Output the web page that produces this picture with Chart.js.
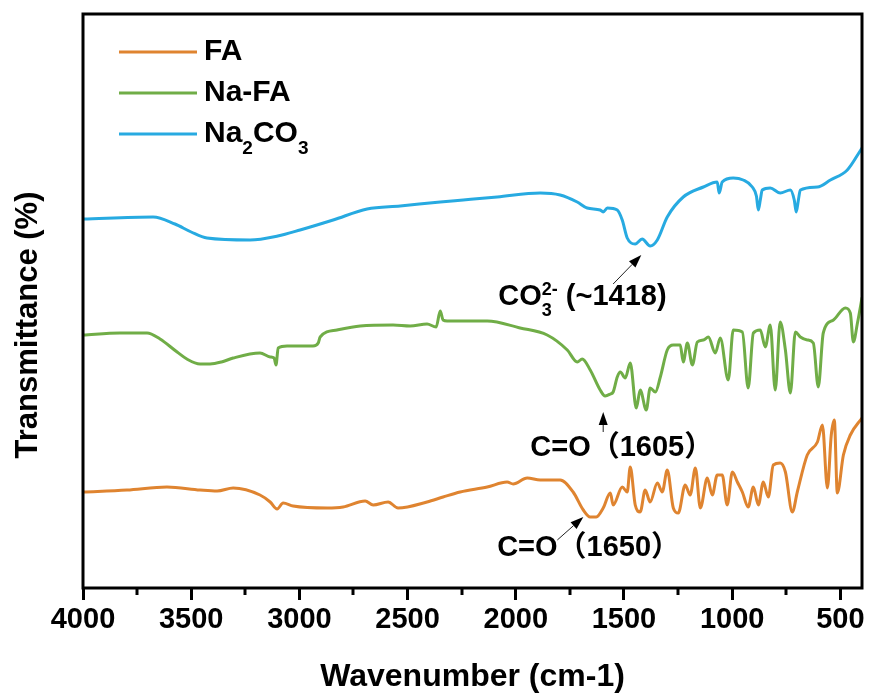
<!DOCTYPE html>
<html>
<head>
<meta charset="utf-8">
<title>FTIR spectra</title>
<script src="https://cdn.jsdelivr.net/npm/chart.js@4.4.1/dist/chart.umd.min.js"></script>
<style>
  html, body { margin: 0; padding: 0; background: #fff; }
  #wrap { width: 871px; height: 697px; }
</style>
</head>
<body>
<div id="wrap"><canvas id="ftirChart" width="871" height="697"></canvas></div>
<script>
// Spectra: wavenumber (cm-1) and transmittance (a.u., curves stacked)
const waveFA = [4000, 3797, 3612, 3459, 3380, 3306, 3182, 3135, 3103, 3075, 3029, 2872, 2798, 2696, 2659, 2590, 2544, 2410, 2336, 2257,
  2132, 2040, 2012, 1947, 1887, 1795, 1735, 1688, 1656, 1628, 1596, 1563, 1550, 1508, 1485, 1471, 1448, 1425, 1402, 1379,
  1346, 1323, 1300, 1272, 1249, 1217, 1194, 1170, 1147, 1115, 1092, 1069, 1046, 1023, 999, 976, 953, 926, 902, 879,
  856, 833, 810, 778, 754, 722, 699, 653, 606, 583, 560, 542, 528, 514, 486, 454, 400];
const transFA = [96, 98, 101, 98, 97, 100, 93, 86, 79, 85, 82, 80, 81, 87, 83, 86, 80, 86, 91, 96,
  101, 106, 104, 110, 108, 108, 96, 78, 71, 71, 80, 95, 83, 101, 96, 121, 83, 76, 98, 86,
  105, 96, 118, 80, 75, 103, 93, 120, 80, 110, 93, 113, 113, 83, 116, 106, 96, 81, 101, 83,
  106, 91, 123, 125, 116, 76, 96, 133, 146, 163, 100, 153, 168, 95, 133, 153, 170];

const waveNaFA = [4000, 3829, 3704, 3644, 3565, 3520, 3459, 3413, 3360, 3306, 3182, 3135, 3117, 3108, 3098, 3057, 2937, 2913, 2904, 2826,
  2719, 2567, 2488, 2410, 2368, 2349, 2336, 2317, 2132, 1980, 1855, 1762, 1716, 1693, 1656, 1610, 1587, 1563, 1550, 1531,
  1517, 1494, 1471, 1443, 1425, 1397, 1379, 1355, 1332, 1300, 1272, 1240, 1226, 1207, 1184, 1161, 1133, 1110, 1078, 1055,
  1018, 995, 953, 926, 902, 870, 847, 824, 801, 778, 754, 731, 708, 685, 653, 625, 602, 579, 532, 477,
  454, 440, 421, 400];
const transNaFA = [253, 255, 255, 249, 236, 229, 224, 224, 226, 230, 235, 231, 230, 223, 240, 242, 242, 245, 251, 258,
  262, 263, 262, 264, 261, 277, 268, 267, 267, 260, 253, 238, 226, 229, 218, 198, 192, 194, 196, 211,
  216, 210, 225, 180, 198, 178, 200, 196, 211, 238, 243, 243, 226, 245, 223, 246, 248, 251, 235, 250,
  208, 258, 256, 200, 255, 258, 241, 263, 198, 266, 238, 195, 256, 251, 248, 245, 201, 255, 268, 280,
  275, 246, 265, 290];

const waveNa2CO3 = [4000, 3676, 3575, 3500, 3427, 3228, 3100, 2997, 2844, 2687, 2534, 2349, 2243, 2086, 1887, 1795, 1716, 1670, 1610, 1596,
  1577, 1531, 1508, 1485, 1448, 1416, 1379, 1346, 1300, 1226, 1133, 1069, 1060, 1046, 995, 949, 907, 888, 879, 870,
  861, 824, 778, 731, 713, 704, 694, 685, 606, 546, 468, 400];
const transNa2CO3 = [369, 371, 364, 356, 350, 348, 352, 358, 368, 379, 382, 386, 388, 391, 395, 393, 386, 380, 378, 376,
  380, 378, 368, 350, 344, 349, 342, 348, 371, 391, 401, 406, 395, 406, 410, 408, 401, 392, 378, 388,
  398, 400, 395, 398, 388, 376, 388, 398, 401, 408, 418, 440];

const seriesNames = ['FA', 'Na-FA', 'Na2CO3'];
const seriesColors = ['#DF8430', '#70AD47', '#27AAE1'];
const xTickValues = [4000, 3500, 3000, 2500, 2000, 1500, 1000, 500];
const xMinorTicks = [3750, 3250, 2750, 2250, 1750, 1250, 750];

// peak labels: arrow tail / tip and text anchor, in wavenumber + transmittance units
const peakNotes = [
  { text: 'CO3', tail: [1550, 304], tip: [1420, 333], at: [2081, 291] },
  { text: 'C=O（1605）', tail: [1596, 156], tip: [1596, 176], at: [1933, 140] },
  { text: 'C=O（1650）', tail: [1808, 48], tip: [1688, 71], at: [2086, 40] }
];

const FONT = "'Liberation Sans', Arial, 'Noto Sans CJK SC', sans-serif";

function toPoints(xs, ys) {
  return xs.map((x, i) => ({ x: x, y: ys[i] }));
}

function drawArrow(ctx, x1, y1, x2, y2) {
  const ang = Math.atan2(y2 - y1, x2 - x1);
  const head = 13, half = 4.5;
  const bx = x2 - head * Math.cos(ang), by = y2 - head * Math.sin(ang);
  ctx.strokeStyle = '#222';
  ctx.lineWidth = 1;
  ctx.beginPath();
  ctx.moveTo(x1, y1);
  ctx.lineTo(bx, by);
  ctx.stroke();
  ctx.fillStyle = '#000';
  ctx.beginPath();
  ctx.moveTo(x2, y2);
  ctx.lineTo(bx + half * Math.sin(ang), by - half * Math.cos(ang));
  ctx.lineTo(bx - half * Math.sin(ang), by + half * Math.cos(ang));
  ctx.closePath();
  ctx.fill();
}

// text with a subscript (and optional superscript) after a part
function drawChem(ctx, x, y, parts, size) {
  ctx.textBaseline = 'middle';
  ctx.textAlign = 'left';
  parts.forEach(p => {
    if (p.sub || p.sup) {
      ctx.font = 'bold ' + Math.round(size * 0.62) + 'px ' + FONT;
      let w = 0;
      if (p.sub) { ctx.fillText(p.sub, x, y + size * 0.5); w = ctx.measureText(p.sub).width; }
      if (p.sup) { ctx.fillText(p.sup, x, y - size * 0.25); w = Math.max(w, ctx.measureText(p.sup).width); }
      x += w;
    } else {
      ctx.font = 'bold ' + size + 'px ' + FONT;
      ctx.fillText(p.t, x, y);
      x += ctx.measureText(p.t).width;
    }
  });
}

const decorPlugin = {
  id: 'decor',
  afterDraw(chart) {
    const { ctx, chartArea: a, scales: { x, y } } = chart;
    ctx.save();

    // frame round the plot
    ctx.strokeStyle = '#000';
    ctx.lineWidth = 3;
    ctx.strokeRect(a.left, a.top, a.right - a.left, a.bottom - a.top);

    // minor ticks
    xMinorTicks.forEach(v => {
      const px = Math.round(x.getPixelForValue(v));
      ctx.beginPath();
      ctx.moveTo(px, a.bottom);
      ctx.lineTo(px, a.bottom + 7);
      ctx.stroke();
    });

    // y axis title
    ctx.fillStyle = '#000';
    ctx.save();
    ctx.translate(28, 325);
    ctx.rotate(-Math.PI / 2);
    ctx.font = 'bold 31px ' + FONT;
    ctx.textAlign = 'center';
    ctx.textBaseline = 'middle';
    ctx.fillText('Transmittance (%)', 0, 0);
    ctx.restore();

    // legend
    seriesNames.forEach((name, i) => {
      const ly = a.top + 38 + i * 41;
      ctx.strokeStyle = seriesColors[i];
      ctx.lineWidth = 3;
      ctx.beginPath();
      ctx.moveTo(119, ly);
      ctx.lineTo(197, ly);
      ctx.stroke();
      ctx.fillStyle = '#000';
      if (name === 'Na2CO3') {
        drawChem(ctx, 204, ly, [{ t: 'Na' }, { sub: '2' }, { t: 'CO' }, { sub: '3' }], 30);
      } else {
        drawChem(ctx, 204, ly, [{ t: name }], 30);
      }
    });

    // peak labels
    peakNotes.forEach(n => {
      drawArrow(ctx, x.getPixelForValue(n.tail[0]), y.getPixelForValue(n.tail[1]),
        x.getPixelForValue(n.tip[0]), y.getPixelForValue(n.tip[1]));
      ctx.fillStyle = '#000';
      const tx = x.getPixelForValue(n.at[0]), ty = y.getPixelForValue(n.at[1]);
      if (n.text === 'CO3') {
        drawChem(ctx, tx, ty, [{ t: 'CO' }, { sub: '3', sup: '2-' }, { t: ' (~1418)' }], 29);
      } else {
        drawChem(ctx, tx, ty, [{ t: n.text }], 29);
      }
    });

    ctx.restore();
  }
};

const allWaves = [waveFA, waveNaFA, waveNa2CO3];
const allTrans = [transFA, transNaFA, transNa2CO3];

new Chart(document.getElementById('ftirChart'), {
  type: 'line',
  data: {
    datasets: seriesNames.map((name, i) => ({
      label: name,
      data: toPoints(allWaves[i], allTrans[i]),
      borderColor: seriesColors[i],
      borderWidth: 3,
      pointRadius: 0,
      cubicInterpolationMode: 'monotone',
      borderJoinStyle: 'round',
      borderCapStyle: 'round',
      fill: false
    }))
  },
  options: {
    responsive: false,
    animation: false,
    devicePixelRatio: 1,
    layout: { padding: { left: 83, right: 9, top: 14, bottom: 0 } },
    plugins: { legend: { display: false }, tooltip: { enabled: false } },
    scales: {
      x: {
        type: 'linear',
        reverse: true,
        min: 400,
        max: 4000,
        afterBuildTicks: s => { s.ticks = xTickValues.map(v => ({ value: v })); },
        afterFit: s => { s.height = 109; s.paddingLeft = 0; s.paddingRight = 0; },
        ticks: {
          autoSkip: false,
          maxRotation: 0,
          padding: 3,
          color: '#000',
          font: { family: FONT, size: 29, weight: 'bold' },
          callback: v => String(v)
        },
        grid: { drawOnChartArea: false, drawTicks: true, tickLength: 12, tickWidth: 3, tickColor: '#000' },
        border: { display: false },
        title: {
          display: true,
          text: 'Wavenumber (cm-1)',
          color: '#000',
          font: { family: FONT, size: 32, weight: 'bold' },
          padding: { top: 0, bottom: 1 }
        }
      },
      y: { type: 'linear', min: 0, max: 574, display: false }
    }
  },
  plugins: [decorPlugin]
});
</script>
</body>
</html>
